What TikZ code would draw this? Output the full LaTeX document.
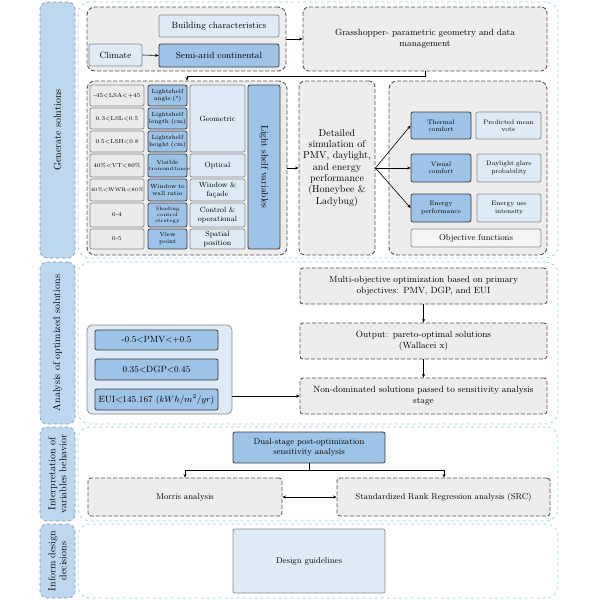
\documentclass[tikz,border=0pt]{standalone}
\usetikzlibrary{arrows.meta}
\definecolor{labblue}{HTML}{BDD7EE}
\definecolor{labedge}{HTML}{7F98B2}
\definecolor{secedge}{HTML}{92CFE2}
\definecolor{grpfill}{HTML}{EDEDED}
\definecolor{grpedge}{HTML}{555555}
\definecolor{dkfill}{HTML}{9DC3E6}
\definecolor{dkedge}{HTML}{3C3C3C}
\definecolor{ltfill}{HTML}{DEEBF7}
\definecolor{ltedge}{HTML}{8A8A8A}
\definecolor{gyfill}{HTML}{EBEBEB}
\definecolor{objfill}{HTML}{F4F4F4}
\newcommand{\ftNine}{\fontsize{9}{10.5}\selectfont}
\newcommand{\ftSim}{\fontsize{10}{11.3}\selectfont}
\newcommand{\ftLsv}{\fontsize{9.5}{10.5}\selectfont}
\newcommand{\ftSm}{\fontsize{6.5}{7.4}\selectfont}
\newcommand{\ftNm}{\fontsize{6}{7}\selectfont}
\newcommand{\ftTiny}{\fontsize{5}{5.8}\selectfont}
\newcommand{\ftVal}{\fontsize{5.8}{7}\selectfont}
\newcommand{\ftCat}{\fontsize{7.5}{8.6}\selectfont}
\newcommand{\ftSec}{\fontsize{10}{11}\selectfont}
\newcommand{\ftMid}{\fontsize{8.5}{10}\selectfont}
\newcommand{\bx}[7]{%
  \pgfmathsetmacro{\bxw}{#5-#3}\pgfmathsetmacro{\bxh}{#6-#4}%
  \pgfmathsetmacro{\bxcx}{(#3+#5)/2}\pgfmathsetmacro{\bxcy}{(#4+#6)/2}%
  \pgfmathsetmacro{\bxtw}{#5-#3-1.5}%
  \node[inner sep=0pt, align=center, #2, minimum width=\bxw pt, minimum height=\bxh pt, text width=\bxtw pt] (#1) at (\bxcx,\bxcy) {#7};}
\begin{document}
\begin{tikzpicture}[x=1pt,y=-1pt,
  labbox/.style={draw=labedge, fill=labblue, dashed, line width=0.6pt, rounded corners=7pt},
  secbox/.style={draw=secedge, dashed, line width=0.6pt, rounded corners=12pt, fill=white},
  grpbox/.style={draw=grpedge, fill=grpfill, dash pattern=on 4pt off 2pt, line width=0.9pt, rounded corners=8pt},
  dkbox/.style={draw=dkedge, fill=dkfill, line width=0.8pt, rounded corners=2pt},
  ltbox/.style={draw=ltedge, fill=ltfill, line width=0.7pt, rounded corners=2pt},
  gybox/.style={draw=ltedge, fill=gyfill, line width=0.7pt, rounded corners=2pt},
  objbox/.style={draw=ltedge, fill=objfill, line width=0.7pt, rounded corners=2pt},
  consbox/.style={draw=ltedge, fill=ltfill, line width=0.7pt, rounded corners=5pt},
  dbox/.style={draw=grpedge, fill=grpfill, dash pattern=on 4pt off 2pt, line width=0.9pt, rounded corners=3pt},
  arr/.style={-{Stealth[length=3.5pt,width=3pt]}, line width=0.6pt},
  arrb/.style={{Stealth[length=3.5pt,width=3pt]}-{Stealth[length=3.5pt,width=3pt]}, line width=0.6pt}]
\useasboundingbox (0,0) rectangle (600,600);
% sections
\bx{s1}{secbox}{78}{2}{558}{258}{}
\bx{s2}{secbox}{78}{262}{558}{424}{}
\bx{s3}{secbox}{78}{427}{558}{521}{}
\bx{s4}{secbox}{78}{524}{558}{598}{}
% side labels
\bx{l1}{labbox}{40}{2}{75}{258}{}
\bx{l2}{labbox}{40}{262}{75}{424}{}
\bx{l3}{labbox}{40}{427}{75}{521}{}
\bx{l4}{labbox}{40}{524}{75}{598}{}
\node[rotate=90, font=\ftSec] (t1) at (l1) {Generate solutions};
\node[rotate=90, font=\ftSec] (t2) at (l2) {Analysis of optimized solutions};
\node[rotate=90, font=\ftSec, align=center] (t3) at (l3) {Interpretation of\\variables behavior};
\node[rotate=90, font=\ftSec, align=center] (t4) at (l4) {Inform design\\decisions};
% section 1
\bx{cg}{grpbox}{87}{7}{286}{71}{}
\bx{bc}{ltbox,font=\ftNine}{159}{15}{279}{37}{Building characteristics}
\bx{cl}{ltbox,font=\ftNine}{89}{44}{142}{66}{Climate}
\bx{sa}{dkbox,font=\ftNine}{159}{44}{279}{67}{Semi-arid continental}
\bx{gh}{dbox,rounded corners=6pt,font=\ftNine}{303}{7}{547}{71}{Grasshopper- parametric geometry and data\\management}
\bx{vg}{grpbox}{87}{81}{287}{255}{}
% table rows
\bx{v1}{gybox,font=\ftVal}{90}{85}{144}{106}{-45<LSA<+45}
\bx{v2}{gybox,font=\ftVal}{90}{108}{144}{129}{0.3<LSL<0.5}
\bx{v3}{gybox,font=\ftVal}{90}{131}{144}{152}{0.5<LSH<0.8}
\bx{v4}{gybox,font=\ftVal}{90}{154}{144}{177}{40\%<VT<80\%}
\bx{v5}{gybox,font=\ftTiny}{90}{179}{144}{201}{40\%<WWR<80\%}
\bx{v6}{gybox,font=\ftVal}{90}{203}{144}{227}{0-4}
\bx{v7}{gybox,font=\ftVal}{90}{229}{144}{249}{0-5}
\bx{n1}{dkbox,font=\ftNm}{148}{85}{187}{106}{Lightshelf\\angle (°)}
\bx{n2}{dkbox,font=\ftNm}{148}{108}{187}{129}{Lightshelf\\length (cm)}
\bx{n3}{dkbox,font=\ftNm}{148}{131}{187}{152}{Lightshelf\\height (cm)}
\bx{n4}{dkbox,font=\ftTiny}{148}{154}{187}{177}{{\ftNm Visible}\\transmittance}
\bx{n5}{dkbox,font=\ftNm}{148}{179}{187}{201}{Window to\\wall ratio}
\bx{n6}{dkbox,font=\ftTiny}{148}{203}{187}{227}{Shading\\control\\strategy}
\bx{n7}{dkbox,font=\ftNm}{148}{229}{187}{249}{View\\point}
\bx{c1}{ltbox,font=\ftCat}{190}{85}{245}{152}{Geometric}
\bx{c2}{ltbox,font=\ftCat}{190}{154}{245}{177}{Optical}
\bx{c3}{ltbox,font=\ftCat}{190}{179}{245}{201}{Window \&\\façade}
\bx{c4}{ltbox,font=\ftCat}{190}{203}{245}{227}{Control \&\\operational}
\bx{c5}{ltbox,font=\ftCat}{190}{229}{245}{249}{Spatial\\position}
\bx{lsv}{dkbox}{248}{85}{280}{249}{}
\node[rotate=-90, font=\ftLsv] (lsvt) at (lsv) {Light shelf variables};
% simulation and objectives
\bx{sim}{dbox,rounded corners=6pt,font=\ftSim}{299}{81}{375}{255}{Detailed\\simulation of\\PMV, daylight,\\and energy\\performance\\(Honeybee \&\\Ladybug)}
\bx{og}{grpbox}{389}{81}{547}{255}{}
\bx{th}{dkbox,font=\ftSm}{411}{112}{471}{139}{Thermal\\comfort}
\bx{pmvo}{ltbox,font=\ftSm}{476}{112}{541}{139}{Predicted mean\\vote}
\bx{vi}{dkbox,font=\ftSm}{411}{154}{471}{182}{Visual\\comfort}
\bx{dgpo}{ltbox,font=\ftSm}{477}{154}{541}{182}{Daylight glare\\probability}
\bx{en}{dkbox,font=\ftSm}{411}{194}{471}{222}{Energy\\performance}
\bx{euio}{ltbox,font=\ftSm}{477}{194}{541}{222}{Energy use\\intensity}
\bx{of}{objbox,font=\ftMid}{411}{229}{541}{247}{Objective functions}
% section 2
\bx{mo}{dbox,font=\ftNine}{300}{268}{547}{304}{Multi-objective optimization based on primary\\objectives: PMV, DGP, and EUI}
\bx{out}{dbox,font=\ftNine}{300}{323}{547}{359}{Output: pareto-optimal solutions\\(Wallacei x)}
\bx{nd}{dbox,font=\ftNine}{300}{378}{547}{414}{Non-dominated solutions passed to sensitivity analysis\\stage}
\bx{cons}{consbox}{87}{325}{232}{414}{}
\bx{pmv}{dkbox,font=\ftNine}{95}{330}{218}{350}{-0.5<PMV<+0.5}
\bx{dgp}{dkbox,font=\ftNine}{95}{359}{218}{380}{0.35<DGP<0.45}
\bx{eui}{dkbox,font=\ftNine}{95}{389}{218}{410}{EUI<145.167 $(kWh/m^2/yr)$}
% section 3
\bx{dual}{dkbox,font=\ftMid}{233}{432}{385}{463}{Dual-stage post-optimization\\sensitivity analysis}
\bx{mor}{dbox,font=\ftMid}{88}{478}{282}{516}{Morris analysis}
\bx{src}{dbox,font=\ftMid}{337}{478}{550}{516}{Standardized Rank Regression analysis (SRC)}
% section 4
\bx{dg}{ltbox,font=\ftMid}{233}{529}{385}{593}{Design guidelines}
% connectors
\draw[arr] (cl.east) -- (sa.west);
\draw[arr] (cg.east) -- (gh.west);
\coordinate (k1) at (425,76);
\coordinate (k2) at (187,76);
\draw[arr] (gh.south -| k1) -- (k1) -- (k2) -- (k2 |- vg.north);
\draw[arr] (vg.east) -- (sim.west);
\draw[arr] (sim.east) -- (th.west);
\draw[arr] (sim.east) -- (vi.west);
\draw[arr] (sim.east) -- (en.west);
\draw[arr] (mo.south) -- (out.north);
\draw[arr] (out.south) -- (nd.north);
\draw[arr] (nd.west -| cons.east) -- (nd.west);
\coordinate (j) at (309,470);
\coordinate (jm) at (185,470);
\coordinate (js) at (444,470);
\draw[line width=0.6pt] (dual.south) -- (j);
\draw[arr] (j) -- (jm) -- (jm |- mor.north);
\draw[arr] (j) -- (js) -- (js |- src.north);
\draw[arrb] (mor.east) -- (src.west);
\end{tikzpicture}
\end{document}
